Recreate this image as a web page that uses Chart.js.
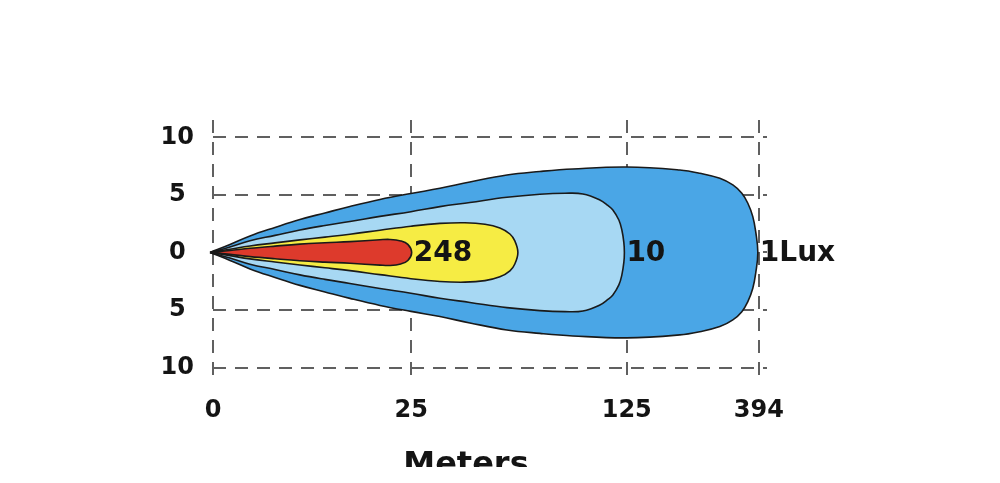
<!DOCTYPE html>
<html>
<head>
<meta charset="utf-8">
<script src="https://cdn.jsdelivr.net/npm/chart.js@4.4.1/dist/chart.umd.min.js"></script>
<style>
html, body { margin: 0; padding: 0; background: #fff; }
#wrap { width: 1000px; height: 483px; position: relative; }
</style>
</head>
<body>
<div id="wrap"><canvas id="beamChart"></canvas></div>
<script>
// axis ticks (x is drawn on a stretched scale, labels are the meter marks)
const xTickPos = [0, 36.3, 75.8, 100];
const xTickLabels = ['0', '25', '125', '394'];
const yTicks = [10, 5, 0, -5, -10];

// upper half of each lux zone (shape is mirrored below 0)
const redX = [-0.55, 3.11, 6.78, 11.36, 15.93, 20.51, 25.09, 30.59, 32.4, 34.4, 35.7, 36.4];
const redY = [0, 0.17, 0.36, 0.55, 0.72, 0.84, 0.94, 1.1, 1.13, 1.0, 0.7, 0];
const yellowX = [-0.55, 3.11, 6.78, 11.36, 15.93, 20.51, 25.09, 30.59, 36.26, 41.58, 46.15, 49.82, 52.56, 54.4, 55.3, 55.86];
const yellowY = [0, 0.28, 0.56, 0.83, 1.09, 1.33, 1.58, 1.93, 2.28, 2.52, 2.58, 2.45, 2.12, 1.6, 1.0, 0];
const lightX = [-0.55, 3.11, 6.78, 11.36, 15.93, 20.51, 25.09, 30.59, 36.26, 41.58, 47.07, 53.85, 59.89, 64.47, 67.77, 70.88, 72.34, 73.26, 74.36, 74.91, 75.27, 75.37];
const lightY = [0, 0.48, 1.02, 1.48, 1.95, 2.34, 2.69, 3.13, 3.54, 3.98, 4.34, 4.79, 5.05, 5.14, 5.08, 4.56, 4.08, 3.69, 2.82, 1.95, 0.87, 0];
const darkX = [-0.55, 3.11, 6.78, 11.36, 15.93, 20.51, 25.09, 30.59, 36.26, 41.58, 47.07, 53.85, 59.89, 65.93, 75.82, 85.53, 89.19, 92.86, 95.24, 96.89, 97.99, 98.9, 99.45, 99.82];
const darkY = [0, 0.69, 1.43, 2.17, 2.86, 3.43, 3.99, 4.6, 5.12, 5.57, 6.12, 6.73, 7.03, 7.25, 7.42, 7.16, 6.88, 6.44, 5.86, 5.14, 4.27, 3.11, 1.74, 0];

const zoneText = ['248', '', '10', '1Lux'];
const zoneColors = ['#dd3a2c', '#f6ec44', '#a7d8f3', '#4aa6e6'];

// closed outline: tip (doubled so it stays sharp), over the top, back along the bottom
const outline = (xs, ys) => {
	const pts = [{ x: xs[0], y: ys[0] }];
	for (let i = 0; i < xs.length; i++) pts.push({ x: xs[i], y: ys[i] });
	for (let i = xs.length - 2; i >= 0; i--) pts.push({ x: xs[i], y: -ys[i] });
	pts.push({ x: xs[0], y: -ys[0] });
	return pts;
};

const zones = [
	outline(redX, redY),
	outline(yellowX, yellowY),
	outline(lightX, lightY),
	outline(darkX, darkY),
];

const zoneLabels = {
	id: 'zoneLabels',
	afterDraw(chart) {
		const ctx = chart.ctx;
		const xs = chart.scales.x;
		const ys = chart.scales.y;
		ctx.save();
		ctx.font = 'bold 28px "DejaVu Sans"';
		ctx.fillStyle = '#141414';
		ctx.textAlign = 'left';
		ctx.textBaseline = 'middle';
		zones.forEach((pts, i) => {
			if (!zoneText[i]) return;
			const maxX = Math.max(...pts.map((p) => p.x));
			ctx.fillText(zoneText[i], xs.getPixelForValue(maxX) + 2, ys.getPixelForValue(0) + 1);
		});
		// axis name, cut off at the bottom like the original
		ctx.beginPath();
		ctx.rect(0, 0, chart.width, 467);
		ctx.clip();
		ctx.font = 'bold 32px "DejaVu Sans"';
		ctx.textAlign = 'center';
		ctx.textBaseline = 'top';
		ctx.fillText('Meters', 466, 450);
		ctx.restore();
	},
};

const gridStyle = {
	color: '#606060',
	lineWidth: 2,
	drawTicks: false,
};

new Chart(document.getElementById('beamChart'), {
	type: 'scatter',
	data: {
		datasets: zones.map((pts, i) => ({
			data: pts,
			showLine: true,
			fill: 'shape',
			backgroundColor: zoneColors[i],
			borderColor: '#1a1a1a',
			borderWidth: 1.6,
			pointRadius: 0,
			tension: 0.4,
			clip: false,
		})),
	},
	options: {
		responsive: true,
		maintainAspectRatio: false,
		animation: false,
		events: [],
		elements: { line: { capBezierPoints: false } },
		layout: { padding: { left: 150, right: 233, top: 120, bottom: 41 } },
		plugins: { legend: { display: false }, tooltip: { enabled: false } },
		scales: {
			x: {
				type: 'linear',
				min: 0,
				max: 101.5,
				z: 1,
				border: { display: false, dash: [13, 9] },
				grid: gridStyle,
				afterBuildTicks: (scale) => {
					scale.ticks = xTickPos.map((v) => ({ value: v }));
				},
				afterFit: (scale) => {
					scale.height = 60;
				},
				ticks: {
					padding: 14,
					color: '#141414',
					font: { family: 'DejaVu Sans', size: 24, weight: 'bold' },
					callback: (v, i) => xTickLabels[i],
				},
			},
			y: {
				type: 'linear',
				min: -11.25,
				max: 11.5,
				z: 1,
				border: { display: false, dash: [13, 9] },
				grid: gridStyle,
				afterBuildTicks: (scale) => {
					scale.ticks = yTicks.map((v) => ({ value: v }));
				},
				afterFit: (scale) => {
					scale.width = 63;
				},
				ticks: {
					padding: 19,
					crossAlign: 'center',
					color: '#141414',
					font: { family: 'DejaVu Sans', size: 24, weight: 'bold' },
					callback: (v) => String(Math.abs(v)),
				},
			},
		},
	},
	plugins: [zoneLabels],
});
</script>
</body>
</html>
